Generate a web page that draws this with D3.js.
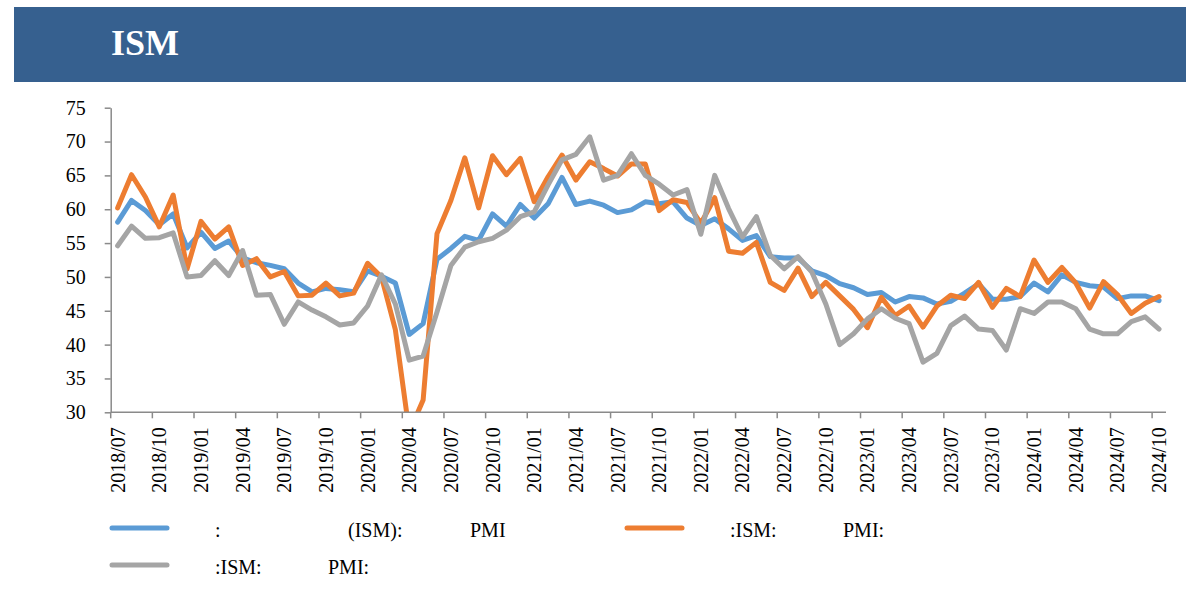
<!DOCTYPE html>
<html>
<head>
<meta charset="utf-8">
<script src="https://cdn.jsdelivr.net/npm/d3@7"></script>
<style>
  html, body { margin: 0; padding: 0; background: #ffffff; }
  svg { display: block; }
</style>
</head>
<body>
<svg id="chart" width="1191" height="599"></svg>
<script>
const months = [];
(function(){
  let yr = 2018, m = 7;
  for (let k = 0; k < 76; k++) {
    months.push(yr + "/" + String(m).padStart(2, "0"));
    m++; if (m > 12) { m = 1; yr++; }
  }
})();

const yTicks = [30, 35, 40, 45, 50, 55, 60, 65, 70, 75];

const pmi = [
  58.1, 61.3, 59.8, 57.7, 59.3, 54.3,
  56.6, 54.2, 55.3, 52.8, 52.1, 51.7, 51.2, 49.1, 47.8, 48.3, 48.1, 47.8,
  50.9, 50.1, 49.1, 41.5, 43.1, 52.6, 54.2, 56.0, 55.4, 59.3, 57.5, 60.7,
  58.7, 60.8, 64.7, 60.7, 61.2, 60.6, 59.5, 59.9, 61.1, 60.8, 61.1, 58.7,
  57.6, 58.6, 57.1, 55.4, 56.1, 53.0, 52.8, 52.8, 50.9, 50.2, 49.0, 48.4,
  47.4, 47.7, 46.3, 47.1, 46.9, 46.0, 46.4, 47.6, 49.0, 46.7, 46.7, 47.1,
  49.1, 47.8, 50.3, 49.2, 48.7, 48.5, 46.8, 47.2, 47.2, 46.5
];

const newOrders = [
  60.2, 65.1, 61.8, 57.4, 62.1, 51.2,
  58.2, 55.6, 57.4, 51.7, 52.7, 50.0, 50.8, 47.2, 47.3, 49.1, 47.2, 47.6,
  52.0, 50.0, 42.2, 27.1, 31.8, 56.4, 61.3, 67.6, 60.2, 67.9, 65.1, 67.5,
  61.1, 64.8, 68.0, 64.3, 67.0, 66.0, 64.9, 66.7, 66.7, 59.8, 61.4, 61.0,
  57.9, 61.7, 53.8, 53.5, 55.1, 49.2, 48.0, 51.3, 47.1, 49.2, 47.2, 45.2,
  42.5, 47.0, 44.3, 45.7, 42.6, 45.7, 47.3, 46.8, 49.2, 45.5, 48.3, 47.1,
  52.5, 49.2, 51.4, 49.1, 45.4, 49.3, 47.4, 44.6, 46.1, 47.1
];

const backlog = [
  54.6, 57.5, 55.7, 55.8, 56.5, 50.0,
  50.2, 52.4, 50.2, 53.9, 47.3, 47.4, 43.0, 46.3, 45.1, 44.1, 42.9, 43.2,
  45.7, 50.3, 46.0, 37.7, 38.3, 44.8, 51.7, 54.4, 55.2, 55.7, 56.9, 58.9,
  59.6, 63.6, 67.3, 68.1, 70.7, 64.3, 65.0, 68.2, 65.0, 63.7, 62.1, 62.9,
  56.3, 65.0, 60.1, 55.9, 58.9, 53.2, 51.2, 53.0, 50.7, 46.0, 40.0, 41.6,
  43.8, 45.3, 43.9, 43.1, 37.4, 38.7, 42.8, 44.2, 42.3, 42.1, 39.2, 45.3,
  44.6, 46.3, 46.3, 45.3, 42.3, 41.6, 41.6, 43.4, 44.1, 42.3
];

const titleText = "ISM";
const seriesColors = ["#5B9BD5", "#ED7D31", "#A5A5A5"];

const svg = d3.select("#chart");
const serif = "'Liberation Serif', 'Times New Roman', serif";

// Title bar
svg.append("rect").attr("x", 14).attr("y", 7).attr("width", 1172).attr("height", 75).attr("fill", "#36608F");
svg.append("text").attr("x", 111).attr("y", 55).text(titleText)
  .attr("fill", "#ffffff").attr("font-family", serif).attr("font-weight", "bold").attr("font-size", 36);

const pL = 110.7, pR = 1166, pT = 107.7, pB = 412.3;
const x = d3.scaleBand().domain(months).range([pL, pR]).paddingInner(0).paddingOuter(0);
const y = d3.scaleLinear().domain([30, 75]).range([pB, pT]);
const axisColor = "#8a8a8a";

// clip
svg.append("defs").append("clipPath").attr("id", "plotclip")
  .append("rect").attr("x", pL - 10).attr("y", pT - 20).attr("width", pR - pL + 20).attr("height", pB - pT + 20);

// Lines (drawn before axes so the axis line sits on top of the clipped dip)
const line = d3.line().x((d, i) => x(months[i]) + x.bandwidth() / 2).y(d => y(d));
const plot = svg.append("g").attr("clip-path", "url(#plotclip)");
[pmi, newOrders, backlog].forEach((s, k) => {
  plot.append("path").datum(s).attr("d", line).attr("fill", "none")
    .attr("stroke", seriesColors[k]).attr("stroke-width", 5)
    .attr("stroke-linejoin", "round").attr("stroke-linecap", "round");
});

// Y axis
const yAxis = svg.append("g").attr("transform", `translate(${pL},0)`)
  .call(d3.axisLeft(y).tickValues(yTicks).tickSize(6).tickPadding(19).tickSizeOuter(0));
yAxis.select(".domain").attr("stroke", axisColor).attr("stroke-width", 1.5);
yAxis.selectAll(".tick line").attr("stroke", axisColor).attr("stroke-width", 1.5);
yAxis.selectAll(".tick text").attr("font-family", serif).attr("font-size", 20).attr("fill", "#000");

// X axis (ticks at category boundaries, every 3 months)
const xg = svg.append("g").attr("transform", `translate(0,${pB})`);
xg.append("line").attr("x1", pL).attr("x2", pR).attr("y1", 0).attr("y2", 0)
  .attr("stroke", axisColor).attr("stroke-width", 1.5);
const tickIdx = d3.range(0, months.length, 3);
xg.selectAll("line.tk").data(tickIdx).enter().append("line").attr("class", "tk")
  .attr("x1", d => x(months[d])).attr("x2", d => x(months[d]))
  .attr("y1", 0).attr("y2", 6).attr("stroke", axisColor).attr("stroke-width", 1.5);
xg.selectAll("text.lbl").data(tickIdx).enter().append("text").attr("class", "lbl")
  .attr("transform", d => `translate(${x(months[d]) + x.bandwidth() / 2},15) rotate(-90)`)
  .attr("text-anchor", "end").attr("dy", "0.35em")
  .attr("font-family", serif).attr("font-size", 20).attr("fill", "#000")
  .text(d => months[d]);

// Legend
const legendItems = [
  { color: seriesColors[0], x1: 112, x2: 167, y: 528, parts: [[215, ":"], [348, "(ISM):"], [470, "PMI"]] },
  { color: seriesColors[1], x1: 627, x2: 682, y: 528, parts: [[730, ":ISM:"], [843, "PMI:"]] },
  { color: seriesColors[2], x1: 112, x2: 167, y: 565, parts: [[215, ":ISM:"], [328, "PMI:"]] }
];
legendItems.forEach(it => {
  svg.append("line").attr("x1", it.x1).attr("x2", it.x2).attr("y1", it.y).attr("y2", it.y)
    .attr("stroke", it.color).attr("stroke-width", 5).attr("stroke-linecap", "round");
  const t = svg.append("text").attr("y", it.y + 9).attr("font-family", serif).attr("font-size", 20).attr("fill", "#000");
  it.parts.forEach(p => t.append("tspan").attr("x", p[0]).text(p[1]));
});
</script>
</body>
</html>
